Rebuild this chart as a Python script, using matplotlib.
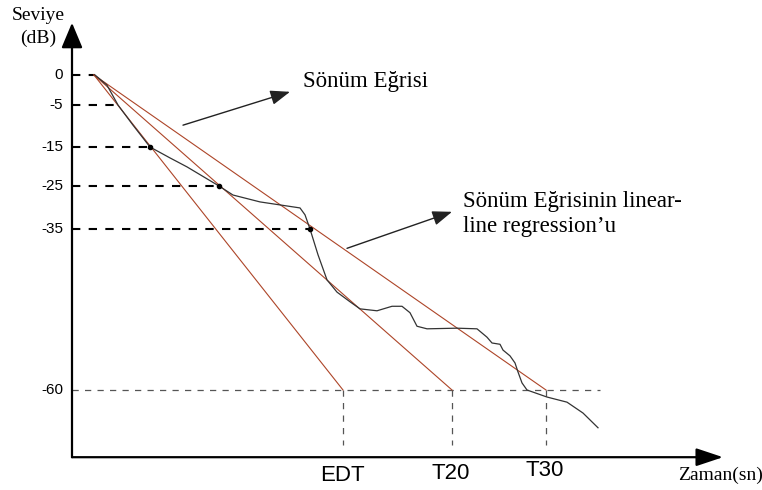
#!/usr/bin/env python3
"""
Schematic decay curve with EDT / T20 / T30 regression lines.
Saves out.png (762x490).
"""

import matplotlib
matplotlib.use("Agg")
import matplotlib.pyplot as plt
import numpy as np

# Levels marked on the y axis (dB)
levels = [0, -5, -15, -25, -35, -60]
level_labels = ["0", "-5", "-15", "-25", "-35", "-60"]

# Time (arbitrary units) where the decay curve reaches 0, -5, -15, -25, -35 dB
level_hit_t = [2.3, 4.6, 7.8, 14.7, 23.8]

# Decay curve ("Sönüm Eğrisi")
decay_t = [2.3, 3.5, 4.6, 6.1, 7.8, 9.8, 11.5, 14.7, 16.1, 18.8, 20.8, 22.8,
           23.3, 23.8, 24.6, 25.5, 26.5, 27.8, 28.8, 30.5, 32.0, 33.0, 33.8,
           34.5, 35.5, 38.5, 40.5, 41.5, 42.0, 42.8, 43.1, 43.8, 44.3, 44.6,
           45.0, 45.5, 47.5, 49.5, 51.1, 52.6]
decay_db = [0.0, -1.7, -5.0, -9.8, -15.0, -17.8, -20.1, -25.0, -27.1, -28.7,
            -29.4, -30.1, -31.7, -35.0, -39.0, -42.9, -44.8, -46.3, -47.4,
            -47.7, -47.0, -47.0, -48.0, -50.1, -50.5, -50.4, -50.5, -51.8,
            -52.7, -52.9, -53.8, -54.7, -55.8, -57.2, -58.9, -60.0, -61.1,
            -61.9, -63.6, -65.9]

# Regression lines: start at 0 dB, reach -60 dB at these times
reg_start_t = 2.2
reg_names = ["EDT", "T20", "T30"]
reg_end_t = [27.1, 38.0, 47.4]
reg_points = [(7.8, -15), (14.7, -25), (23.8, -35)]

SERIF = "Liberation Serif"
SANS = "Liberation Sans"
RED = "#ad4528"

# the drawing is a sketch: dB levels are not evenly spaced on the page
anchor_db = np.array([-100, -60, -35, -25, -15, -5, 0, 20], dtype=float)
anchor_pos = np.array([646, 390, 229, 186, 147, 105, 75, -45], dtype=float)


def forward(db):
    return -np.interp(db, anchor_db, anchor_pos)


def inverse(pos):
    return np.interp(-np.asarray(pos), anchor_pos[::-1], anchor_db[::-1])


fig = plt.figure(figsize=(7.62, 4.90), dpi=100)
ax = fig.add_axes([0, 0, 1, 1])
ax.set_yscale("function", functions=(forward, inverse))
ax.set_xlim(-7.2, 69.0)
ax.set_ylim(-75.625, 12.5)
ax.axis("off")

# axes with arrow heads
ax.annotate("", xy=(0, 8.7), xytext=(0, -70.5),
            arrowprops=dict(arrowstyle="-|>,head_length=1.55,head_width=0.65",
                            lw=1.6, color="black", shrinkA=0, shrinkB=0,
                            mutation_scale=10))
ax.annotate("", xy=(65.1, -70.5), xytext=(0, -70.5),
            arrowprops=dict(arrowstyle="-|>,head_length=1.65,head_width=0.55",
                            lw=1.6, color="black", shrinkA=0, shrinkB=0,
                            mutation_scale=10))

# level labels
for lv, lab in zip(levels, level_labels):
    ax.text(-0.9, lv, lab, ha="right", va="center", fontsize=11, family=SANS)

# black dashed guides up to the decay curve
for lv, t in zip(levels[:-1], level_hit_t):
    ax.plot([0, t], [lv, lv], color="black", lw=1.5, dashes=(4, 4))

# -60 dB guide and the vertical drops
ax.plot([0, 52.8], [-60, -60], color="#555555", lw=0.9, dashes=(5, 5))
for t in reg_end_t:
    ax.plot([t, t], [-60, -68.6], color="#555555", lw=0.9, dashes=(5, 5))

# regression lines
for t_end in reg_end_t:
    ax.plot([reg_start_t, t_end], [0, -60], color=RED, lw=0.8)

# decay curve
ax.plot(decay_t, decay_db, color="#333333", lw=0.9)
ax.plot([p[0] for p in reg_points], [p[1] for p in reg_points], "o",
        color="black", markersize=3)

# time labels
label_db = [-74.2, -73.9, -73.4]
for name, t, yb in zip(reg_names, reg_end_t, label_db):
    ax.text(t - 0.1, yb, name, ha="center", va="baseline", fontsize=16,
            family=SANS)

ax.text(-3.35, 9.2, "Seviye", ha="center", va="baseline", fontsize=14,
        family=SERIF)
ax.text(-3.35, 5.3, "(dB)", ha="center", va="baseline", fontsize=14,
        family=SERIF)
ax.text(60.6, -74.1, "Zaman(sn)", ha="left", va="baseline", fontsize=14,
        family=SERIF)

# pointer arrows
ax.annotate("", xy=(21.8, -2.8), xytext=(11.1, -9.8),
            arrowprops=dict(arrowstyle="-|>,head_length=1.2,head_width=0.45",
                            lw=1.0, color="#222222", shrinkA=0, shrinkB=0,
                            mutation_scale=10))
ax.text(23.1, -2.0, "Sönüm Eğrisi", ha="left", va="baseline", fontsize=16.5,
        family=SERIF)

ax.annotate("", xy=(38.0, -31.0), xytext=(27.5, -38.0),
            arrowprops=dict(arrowstyle="-|>,head_length=1.2,head_width=0.45",
                            lw=1.0, color="#222222", shrinkA=0, shrinkB=0,
                            mutation_scale=10))
ax.text(39.1, -29.9, "Sönüm Eğrisinin linear-", ha="left", va="baseline",
        fontsize=16.5, family=SERIF)
ax.text(39.1, -35.5, "line regression’u", ha="left", va="baseline",
        fontsize=16.5, family=SERIF)

fig.savefig("out.png", dpi=100)
